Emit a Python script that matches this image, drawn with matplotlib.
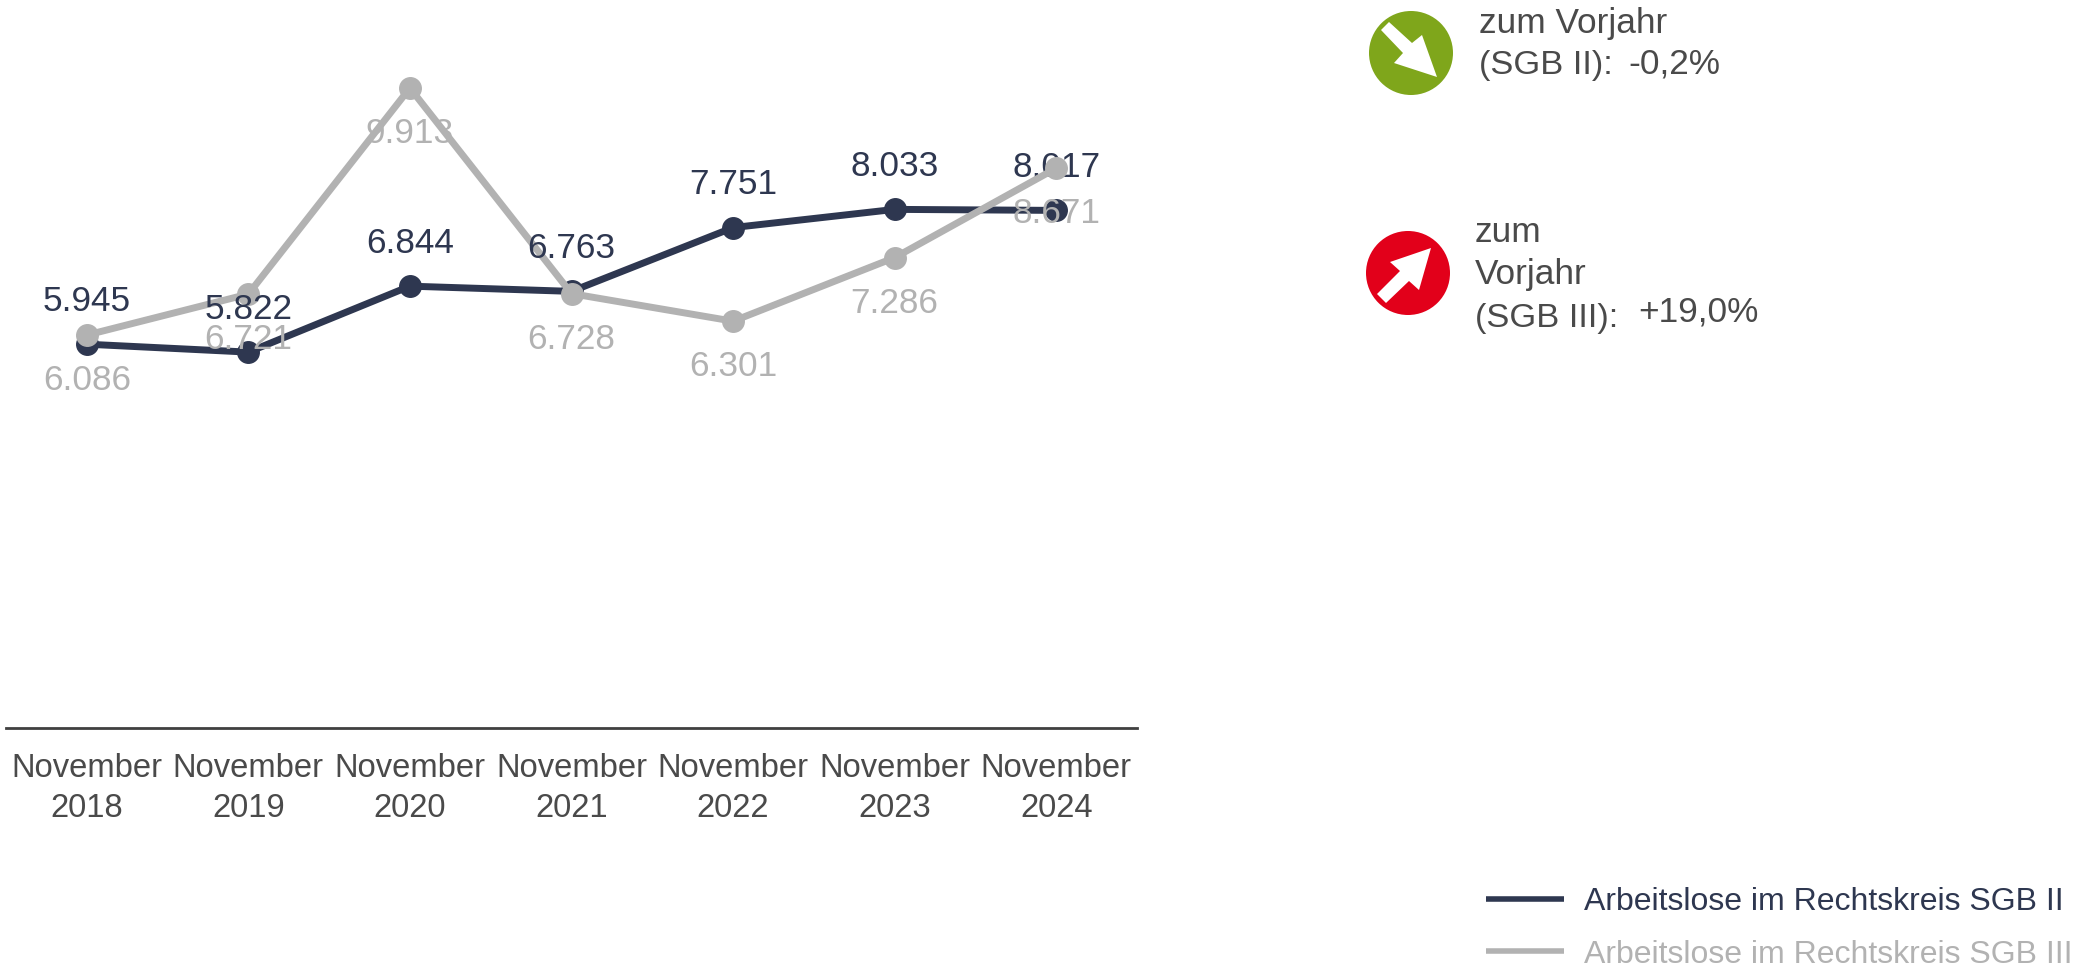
import matplotlib
matplotlib.use("Agg")
import matplotlib.pyplot as plt
from matplotlib.patches import Circle, Polygon
import numpy as np

plt.rcParams['font.family'] = ['Liberation Sans', 'DejaVu Sans']

years = [2018, 2019, 2020, 2021, 2022, 2023, 2024]
sgb2 = [5945, 5822, 6844, 6763, 7751, 8033, 8017]
sgb3 = [6086, 6721, 9913, 6728, 6301, 7286, 8671]
sgb2_name = "Arbeitslose im Rechtskreis SGB II"
sgb3_name = "Arbeitslose im Rechtskreis SGB III"

navy = "#2e3750"
grey = "#b2b2b2"
dark = "#4a4a4a"
W, H = 2100, 968


def fmt(v):
    return f"{v:,}".replace(",", ".")


fig = plt.figure(figsize=(W / 100, H / 100), dpi=100)

# main chart, zero line sits at y=728 px
ax = fig.add_axes([6 / W, 1 - 728 / H, 1131 / W, 728 / H])
x = np.arange(len(years))
ax.plot(x, sgb2, color=navy, lw=5, marker="o", ms=15.5, zorder=3, solid_capstyle="round")
ax.plot(x, sgb3, color=grey, lw=5, marker="o", ms=15.5, zorder=4, solid_capstyle="round")
ax.set_xlim(-0.5, 6.5)
ax.set_ylim(0, 11276)
ax.set_yticks([])
ax.set_xticks(x, [f"November\n{y}" for y in years])
ax.tick_params(axis="x", length=0, pad=18, labelsize=23.6, labelcolor=dark)
for lab in ax.get_xticklabels():
    lab.set_linespacing(1.36)
for s in ["top", "left", "right"]:
    ax.spines[s].set_visible(False)
ax.spines["bottom"].set_color("#404040")
ax.spines["bottom"].set_linewidth(2)
ax.patch.set_alpha(0)

for i in range(len(years)):
    z = 2 if i == len(years) - 1 else 5
    ax.annotate(fmt(sgb2[i]), (x[i], sgb2[i]), xytext=(0, 30.7), textcoords="offset points",
                ha="center", va="center", color=navy, fontsize=25.4, zorder=z)
    ax.annotate(fmt(sgb3[i]), (x[i], sgb3[i]), xytext=(0, -32.7), textcoords="offset points",
                ha="center", va="center", color=grey, fontsize=25.4, zorder=5)

# overlay in pixel coords for icons, side notes and legend
ov = fig.add_axes([0, 0, 1, 1])
ov.set_xlim(0, W)
ov.set_ylim(H, 0)
ov.axis("off")
ov.patch.set_alpha(0)

gx, gy = 1411, 53
ov.add_patch(Circle((gx, gy), 42, color="#7fa61b", lw=0))
arrow_down = [(-30, -23), (-22, -31), (1, -10), (11, -18), (26, 24), (-17, 10), (-8, 0)]
ov.add_patch(Polygon([(gx + a, gy + b) for a, b in arrow_down], color="white", lw=0))

rx, ry = 1408, 273
ov.add_patch(Circle((rx, ry), 42, color="#e2001a", lw=0))
arrow_up = [(23, -25), (11, 17), (1, 8), (-22, 30), (-31, 21), (-8, -2), (-18, -11)]
ov.add_patch(Polygon([(rx + a, ry + b) for a, b in arrow_up], color="white", lw=0))

note = dict(color=dark, fontsize=25.4, va="baseline", ha="left")
ov.text(1479, 33, "zum Vorjahr", **note)
ov.text(1479, 74, "(SGB II):", fontsize=24.8, color=dark, va="baseline", ha="left")
ov.text(1628, 73, "-0,2%", **note)
ov.text(1475, 242, "zum", **note)
ov.text(1475, 284, "Vorjahr", **note)
ov.text(1475, 327, "(SGB III):", fontsize=24.8, color=dark, va="baseline", ha="left")
ov.text(1638, 321, "+19,0%", **note)

ov.plot([1486, 1564], [899, 899], color=navy, lw=4, solid_capstyle="butt")
ov.plot([1486, 1564], [951, 951], color=grey, lw=4, solid_capstyle="butt")
ov.text(1584, 902, sgb2_name, color=navy, fontsize=23, va="center", ha="left")
ov.text(1584, 955, sgb3_name, color=grey, fontsize=23, va="center", ha="left")

fig.savefig("out.png", dpi=100)
